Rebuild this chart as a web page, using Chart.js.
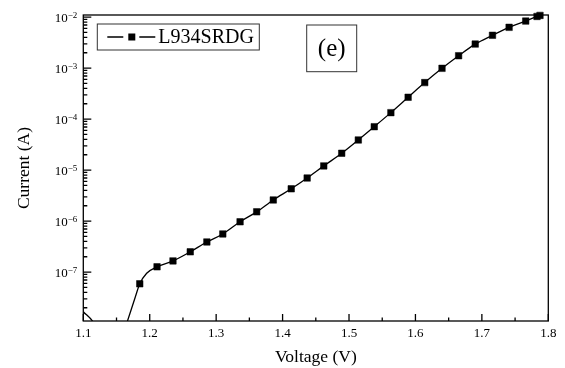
<!DOCTYPE html>
<html>
<head>
<meta charset="utf-8">
<script src="https://cdn.jsdelivr.net/npm/chart.js@4.4.1/dist/chart.umd.min.js"></script>
<style>
  html, body { margin: 0; padding: 0; background: #fff; }
  canvas { display: block; }
</style>
</head>
<body>
<canvas id="ivChart" width="565" height="368"></canvas>
<script>
/* Measured points, drawn with square markers */
var markerVoltage = [1.185, 1.211, 1.235, 1.261, 1.286, 1.310, 1.336, 1.361, 1.386, 1.413,
  1.437, 1.462, 1.489, 1.514, 1.538, 1.563, 1.589, 1.614, 1.640, 1.665,
  1.690, 1.716, 1.741, 1.766, 1.783, 1.7875];
var markerCurrent = [5.9e-8, 1.27e-7, 1.66e-7, 2.5e-7, 3.9e-7, 5.6e-7, 9.7e-7, 1.52e-6, 2.6e-6, 4.3e-6,
  7.0e-6, 1.21e-5, 2.14e-5, 3.9e-5, 7.1e-5, 1.34e-4, 2.68e-4, 5.2e-4, 9.9e-4, 1.75e-3,
  2.96e-3, 4.4e-3, 6.3e-3, 8.35e-3, 1.03e-2, 1.08e-2];

/* Extra points of the trace without a marker (noise floor and knee) */
var traceVoltage = [1.100, 1.116, 1.130, 1.155, 1.166, 1.1778, 1.1954];
var traceCurrent = [1.67e-8, 1.0e-8, 4e-9, 4e-9, 1.05e-8, 3.1e-8, 9.5e-8];

var labelExponents = [-7, -6, -5, -4, -3, -2];
var seriesName = 'L934SRDG';
var panelLabel = '(e)';

var FONT = "'Liberation Serif', 'Times New Roman', serif";

function pointsOf(xs, ys) {
  return xs.map(function (x, i) { return { x: x, y: ys[i] }; });
}

function isMajorX(v) {
  return Math.abs(v * 10 - Math.round(v * 10)) < 1e-6;
}

var markerPoints = pointsOf(markerVoltage, markerCurrent);
var tracePoints = pointsOf(traceVoltage, traceCurrent).concat(markerPoints)
  .sort(function (a, b) { return a.x - b.x; });

/* Box, inward ticks and the 10^n labels */
var framePlugin = {
  id: 'frame',
  beforeDatasetsDraw: function (chart) {
    var ctx = chart.ctx, a = chart.chartArea;
    var xs = chart.scales.x, ys = chart.scales.y;
    ctx.save();
    ctx.strokeStyle = '#000';
    ctx.lineWidth = 1.3;
    ctx.strokeRect(a.left, a.top, a.right - a.left, a.bottom - a.top);

    ctx.beginPath();
    xs.ticks.forEach(function (t) {
      var px = xs.getPixelForValue(t.value);
      var len = isMajorX(t.value) ? 7 : 3.5;
      ctx.moveTo(px, a.bottom);
      ctx.lineTo(px, a.bottom - len);
    });
    ys.ticks.forEach(function (t) {
      var py = ys.getPixelForValue(t.value);
      var len = t.major ? 8 : 4;
      ctx.moveTo(a.left, py);
      ctx.lineTo(a.left + len, py);
    });
    ctx.stroke();

    ctx.fillStyle = '#000';
    ctx.textAlign = 'right';
    ctx.textBaseline = 'alphabetic';
    labelExponents.forEach(function (e) {
      var py = ys.getPixelForValue(Math.pow(10, e));
      var sup = '\u2212' + Math.abs(e);
      var right = a.left - 6;
      ctx.font = '9px ' + FONT;
      var sw = ctx.measureText(sup).width;
      ctx.fillText(sup, right, py + 1);
      ctx.font = '13px ' + FONT;
      ctx.fillText('10', right - sw, py + 5);
    });
    ctx.restore();
  },
  afterDraw: function (chart) {
    var ctx = chart.ctx, a = chart.chartArea;
    ctx.save();
    ctx.strokeStyle = '#333';
    ctx.lineWidth = 1;

    /* legend box */
    var lx = a.left + 14, ly = a.top + 9;
    ctx.strokeRect(lx, ly, 162, 26);
    var cy = ly + 13;
    ctx.strokeStyle = '#000';
    ctx.lineWidth = 1.3;
    ctx.beginPath();
    ctx.moveTo(lx + 10, cy); ctx.lineTo(lx + 26, cy);
    ctx.moveTo(lx + 42, cy); ctx.lineTo(lx + 58, cy);
    ctx.stroke();
    ctx.fillStyle = '#000';
    ctx.fillRect(lx + 31, cy - 3.5, 7, 7);
    ctx.font = '20px ' + FONT;
    ctx.textAlign = 'left';
    ctx.textBaseline = 'middle';
    ctx.fillText(seriesName, lx + 61, cy + 1);

    /* panel label box */
    ctx.strokeStyle = '#333';
    ctx.lineWidth = 1;
    var bx = a.left + 223.4, by = a.top + 10;
    ctx.strokeRect(bx, by, 50, 46.7);
    ctx.font = '25px ' + FONT;
    ctx.textAlign = 'center';
    ctx.fillText(panelLabel, bx + 25, by + 24);
    ctx.restore();
  }
};

var chart = new Chart(document.getElementById('ivChart').getContext('2d'), {
  type: 'line',
  data: {
    datasets: [{
      label: seriesName,
      data: markerPoints,
      showLine: false,
      pointStyle: 'rect',
      pointRadius: 4.6,
      pointBackgroundColor: '#000',
      pointBorderColor: '#000',
      pointBorderWidth: 0.5,
      clip: 6
    }, {
      label: seriesName + ' trace',
      data: tracePoints,
      borderColor: '#000',
      borderWidth: 1.3,
      pointRadius: 0,
      cubicInterpolationMode: 'monotone',
      fill: false
    }]
  },
  options: {
    responsive: false,
    animation: false,
    events: [],
    layout: { padding: { left: 0, top: 15, right: 16.7, bottom: 0 } },
    plugins: { legend: { display: false }, tooltip: { enabled: false } },
    scales: {
      x: {
        type: 'linear',
        min: 1.1,
        max: 1.8,
        grid: { display: false, drawTicks: false },
        border: { display: false },
        ticks: {
          stepSize: 0.05,
          autoSkip: false,
          maxRotation: 0,
          padding: 5,
          color: '#000',
          font: { family: FONT, size: 13 },
          callback: function (value) { return isMajorX(value) ? value.toFixed(1) : ''; }
        },
        title: {
          display: true,
          text: 'Voltage (V)',
          color: '#000',
          font: { family: FONT, size: 17.5 },
          padding: { top: 0, bottom: 0 }
        },
        afterFit: function (scale) { scale.height = 47; }
      },
      y: {
        type: 'logarithmic',
        min: 1.1e-8,
        max: 1.1e-2,
        grid: { display: false, drawTicks: false },
        border: { display: false },
        ticks: { display: false },
        title: {
          display: true,
          text: 'Current (A)',
          color: '#000',
          font: { family: FONT, size: 17.5 },
          padding: { top: 13.5, bottom: 0 }
        },
        afterBuildTicks: function (scale) {
          var ticks = [];
          for (var e = -9; e <= -2; e++) {
            for (var m = 1; m <= 9; m++) {
              var v = m * Math.pow(10, e);
              if (v >= scale.min && v <= scale.max) ticks.push({ value: v, major: m === 1 });
            }
          }
          scale.ticks = ticks;
        },
        afterFit: function (scale) { scale.width = 83.3; }
      }
    }
  },
  plugins: [framePlugin]
});
</script>
</body>
</html>
